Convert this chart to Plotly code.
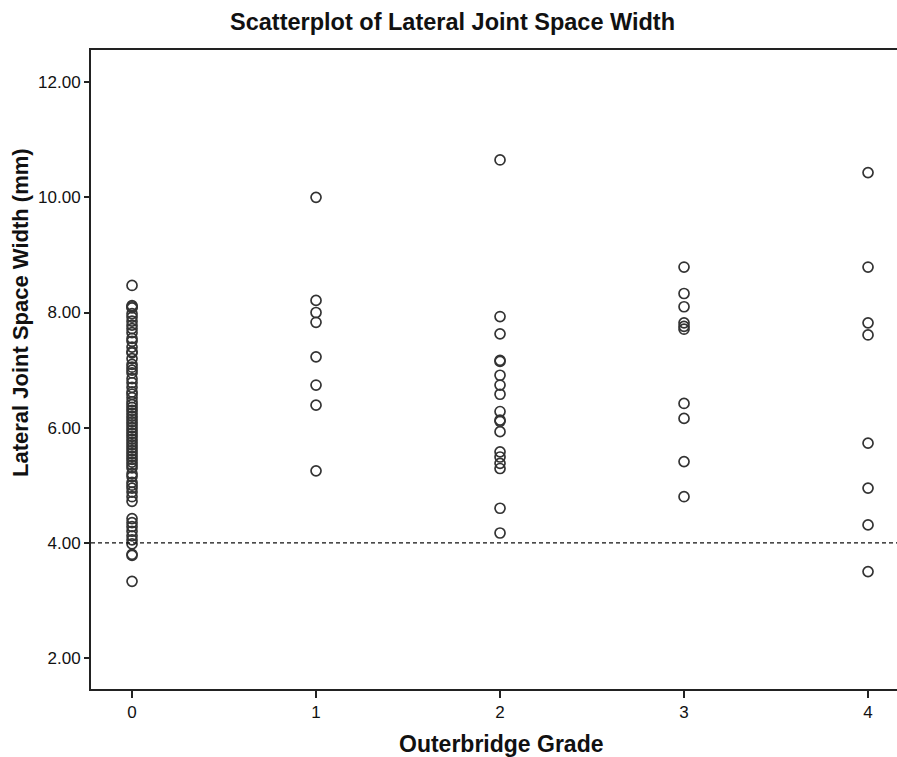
import plotly.graph_objects as go

grade0 = [8.47, 8.12, 8.10, 8.08, 7.98, 7.92, 7.85, 7.78, 7.72, 7.65, 7.55, 7.50, 7.40,
          7.32, 7.30, 7.20, 7.10, 7.05, 7.00, 6.95, 6.85, 6.78, 6.70, 6.62, 6.58, 6.52,
          6.45, 6.40, 6.35, 6.30, 6.25, 6.20, 6.15, 6.10, 6.05, 6.00, 5.95, 5.90, 5.85,
          5.80, 5.75, 5.70, 5.65, 5.60, 5.55, 5.50, 5.45, 5.40, 5.35, 5.30, 5.20, 5.15,
          5.05, 5.00, 4.95, 4.88, 4.80, 4.72, 4.42, 4.35, 4.28, 4.20, 4.12, 4.05, 3.98,
          3.80, 3.78, 3.33]
grade1 = [10.00, 8.21, 8.00, 7.83, 7.23, 6.74, 6.39, 5.25]
grade2 = [10.65, 7.93, 7.63, 7.17, 7.15, 6.91, 6.74, 6.58, 6.28, 6.13, 6.11, 5.93,
          5.58, 5.49, 5.38, 5.29, 4.60, 4.17]
grade3 = [8.79, 8.33, 8.10, 7.82, 7.76, 7.71, 6.42, 6.16, 5.41, 4.80]
grade4 = [10.43, 8.79, 7.82, 7.61, 5.73, 4.95, 4.31, 3.50]

groups = [grade0, grade1, grade2, grade3, grade4]
x_ticks = [0, 1, 2, 3, 4]
y_ticks = [2, 4, 6, 8, 10, 12]
y_tick_labels = ["2.00", "4.00", "6.00", "8.00", "10.00", "12.00"]
reference_y = 4.0

xs, ys = [], []
for g, vals in zip(x_ticks, groups):
    xs += [g] * len(vals)
    ys += vals

fig = go.Figure()
fig.add_trace(go.Scatter(
    x=xs, y=ys, mode="markers",
    marker=dict(symbol="circle-open", size=10, color="#333333", line=dict(width=1.7, color="#333333")),
    showlegend=False, hoverinfo="skip"))

fig.add_shape(type="line", xref="paper", yref="y", x0=0, x1=1, y0=reference_y, y1=reference_y,
              line=dict(color="#111111", width=1.3, dash="4px,3px"))

font = "Liberation Sans, Arial, sans-serif"
W = 897
fig.update_layout(
    width=W, height=757,
    margin=dict(l=91, r=0, t=50, b=68),
    paper_bgcolor="white", plot_bgcolor="white",
    font=dict(family=font, color="#111111", size=17),
    xaxis=dict(range=[-0.223, -0.223 + (W - 91) / 184.0], tickvals=x_ticks, ticktext=[str(v) for v in x_ticks],
               showgrid=False, zeroline=False, showline=True, linecolor="#222222", linewidth=2,
               mirror=True, ticks="outside", ticklen=7, tickwidth=1.5, tickcolor="#222222",
               tickfont=dict(size=17, family=font)),
    yaxis=dict(range=[1.46, 12.56], tickvals=y_ticks, ticktext=y_tick_labels,
               showgrid=False, zeroline=False, showline=True, linecolor="#222222", linewidth=2,
               mirror=False, ticks="outside", ticklen=5, tickwidth=2, tickcolor="#222222",
               tickfont=dict(size=17, family=font)),
    annotations=[
        dict(text="<b>Scatterplot of Lateral Joint Space Width</b>", xref="paper", yref="paper",
             x=(452 - 91) / (W - 91), y=1, yshift=28, showarrow=False, font=dict(size=23.5, family=font),
             xanchor="center", yanchor="middle"),
        dict(text="<b>Outerbridge Grade</b>", xref="paper", yref="paper",
             x=(501 - 91) / (W - 91), y=0, yshift=-55, showarrow=False, font=dict(size=23, family=font),
             xanchor="center", yanchor="middle"),
        dict(text="<b>Lateral Joint Space Width (mm)</b>", xref="paper", yref="paper",
             x=0, xshift=-70, y=(689 - 313) / 639, showarrow=False, textangle=-90,
             font=dict(size=22, family=font), xanchor="center", yanchor="middle"),
    ],
)

fig.write_html("out.html", config={"displayModeBar": False},
               post_script="document.body.style.margin='0';document.body.style.overflow='hidden';")
